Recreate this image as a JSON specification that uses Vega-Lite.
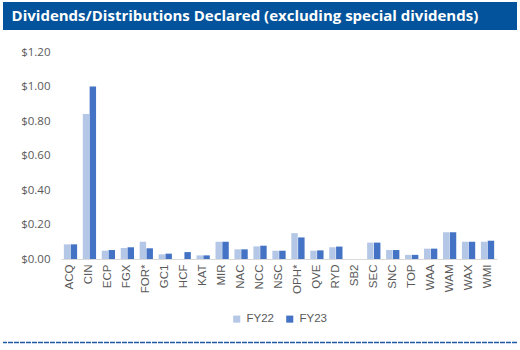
{
  "$schema": "https://vega.github.io/schema/vega-lite/v6.json",
  "padding": {"left": 2, "top": 2, "right": 2, "bottom": 2},
  "background": "white",
  "spacing": 16,
  "resolve": {"scale": {"color": "independent"}, "legend": {"color": "independent"}},
  "config": {"view": {"stroke": null}, "font": "Open Sans", "legend": {"layout": {"bottom": {"anchor": "middle"}}}},
  "vconcat": [
    {
      "width": 514,
      "height": 28,
      "view": {"fill": "#02539B", "stroke": null},
      "data": {"values": [{"label": "Dividends/Distributions Declared (excluding special dividends)", "pos": 0}]},
      "mark": {"type": "text", "align": "left", "baseline": "middle", "color": "white", "fontSize": 15, "fontWeight": "bold", "font": "Open Sans"},
      "encoding": {
        "x": {"field": "pos", "type": "quantitative", "scale": {"domain": [-0.017, 1]}, "axis": null},
        "text": {"field": "label"}
      }
    },
    {
      "spacing": 0,
      "bounds": "flush",
      "resolve": {"scale": {"color": "independent"}, "legend": {"color": "independent"}},
      "hconcat": [
        {
          "width": 58,
          "height": 207,
          "data": {"values": [{"blank": ""}]},
          "mark": {"type": "text"},
          "encoding": {"text": {"field": "blank"}}
        },
        {
          "width": 436,
          "height": 207,
          "data": {"values": [
            {"code": "ACQ", "series": "FY22", "value": 0.085}, {"code": "ACQ", "series": "FY23", "value": 0.085},
            {"code": "CIN", "series": "FY22", "value": 0.84}, {"code": "CIN", "series": "FY23", "value": 1.0},
            {"code": "ECP", "series": "FY22", "value": 0.048}, {"code": "ECP", "series": "FY23", "value": 0.052},
            {"code": "FGX", "series": "FY22", "value": 0.064}, {"code": "FGX", "series": "FY23", "value": 0.068},
            {"code": "FOR*", "series": "FY22", "value": 0.1}, {"code": "FOR*", "series": "FY23", "value": 0.062},
            {"code": "GC1", "series": "FY22", "value": 0.027}, {"code": "GC1", "series": "FY23", "value": 0.031},
            {"code": "HCF", "series": "FY22", "value": 0}, {"code": "HCF", "series": "FY23", "value": 0.04},
            {"code": "KAT", "series": "FY22", "value": 0.021}, {"code": "KAT", "series": "FY23", "value": 0.021},
            {"code": "MIR", "series": "FY22", "value": 0.1}, {"code": "MIR", "series": "FY23", "value": 0.1},
            {"code": "NAC", "series": "FY22", "value": 0.056}, {"code": "NAC", "series": "FY23", "value": 0.056},
            {"code": "NCC", "series": "FY22", "value": 0.073}, {"code": "NCC", "series": "FY23", "value": 0.077},
            {"code": "NSC", "series": "FY22", "value": 0.048}, {"code": "NSC", "series": "FY23", "value": 0.048},
            {"code": "OPH*", "series": "FY22", "value": 0.15}, {"code": "OPH*", "series": "FY23", "value": 0.125},
            {"code": "QVE", "series": "FY22", "value": 0.048}, {"code": "QVE", "series": "FY23", "value": 0.05},
            {"code": "RYD", "series": "FY22", "value": 0.068}, {"code": "RYD", "series": "FY23", "value": 0.072},
            {"code": "SB2", "series": "FY22", "value": 0}, {"code": "SB2", "series": "FY23", "value": 0},
            {"code": "SEC", "series": "FY22", "value": 0.095}, {"code": "SEC", "series": "FY23", "value": 0.095},
            {"code": "SNC", "series": "FY22", "value": 0.052}, {"code": "SNC", "series": "FY23", "value": 0.052},
            {"code": "TOP", "series": "FY22", "value": 0.024}, {"code": "TOP", "series": "FY23", "value": 0.024},
            {"code": "WAA", "series": "FY22", "value": 0.06}, {"code": "WAA", "series": "FY23", "value": 0.06},
            {"code": "WAM", "series": "FY22", "value": 0.155}, {"code": "WAM", "series": "FY23", "value": 0.155},
            {"code": "WAX", "series": "FY22", "value": 0.1}, {"code": "WAX", "series": "FY23", "value": 0.1},
            {"code": "WMI", "series": "FY22", "value": 0.1}, {"code": "WMI", "series": "FY23", "value": 0.106}
          ]},
          "mark": {"type": "bar"},
          "encoding": {
            "x": {
              "field": "code", "type": "nominal", "sort": null,
              "scale": {"paddingInner": 0.3, "paddingOuter": 0.15},
              "axis": {"title": null, "labelAngle": -90, "labelFontSize": 11.5, "labelColor": "#595959", "labelFont": "Liberation Sans", "ticks": false, "domainColor": "#D9D9D9", "labelPadding": 5, "labelBaseline": "middle", "labelAlign": "right"}
            },
            "xOffset": {"field": "series", "type": "nominal", "scale": {"paddingInner": 0.06}},
            "y": {
              "field": "value", "type": "quantitative",
              "scale": {"domain": [0, 1.2]},
              "axis": {"title": null, "format": "$.2f", "values": [0, 0.2, 0.4, 0.6, 0.8, 1.0, 1.2], "grid": false, "domain": false, "ticks": false, "labelPadding": 11, "labelFontSize": 11.5, "labelColor": "#595959"}
            },
            "color": {
              "field": "series", "type": "nominal",
              "scale": {"domain": ["FY22", "FY23"], "range": ["#B4C7E7", "#4472C4"]},
              "legend": {"title": null, "orient": "bottom", "direction": "horizontal", "symbolType": "square", "symbolSize": 50, "symbolStrokeWidth": 0, "labelFontSize": 11.5, "labelColor": "#595959", "labelFont": "Liberation Sans", "columnPadding": 10, "offset": 19}
            }
          }
        }
      ]
    },
    {
      "width": 514,
      "height": 1,
      "data": {"values": [{"v": 0}]},
      "mark": {"type": "rule", "color": "#1F5AA6", "strokeWidth": 1.5, "strokeDash": [5, 1]},
      "encoding": {"y": {"field": "v", "type": "quantitative", "axis": null}}
    }
  ]
}
